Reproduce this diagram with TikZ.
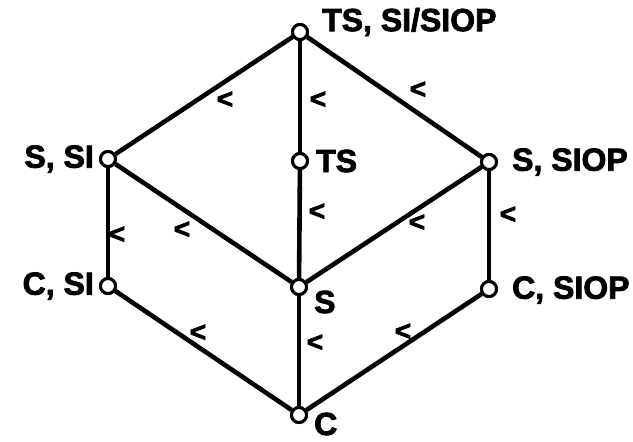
\documentclass[tikz,border=0pt]{standalone}
\usepackage{fontspec}
\setmainfont{Liberation Sans}
\newfontfamily\heavy{Liberation Sans}[FakeBold=2.5]
\begin{document}
\begin{tikzpicture}[x=1pt,y=-1pt,
  vtx/.style={circle,draw=black,fill=white,line width=3pt,minimum size=15pt,inner sep=0pt},
  edge/.style={line width=4.6pt},
  vlab/.style={font=\heavy\fontsize{32}{33}\selectfont\bfseries,inner sep=0pt},
  lt/.style={font=\heavy\fontsize{28}{28}\selectfont\bfseries,inner sep=0pt}]
\useasboundingbox (0,0) rectangle (633,442);
% vertices
\node[vtx] (top) at (300,32) {};
\node[vtx] (ssi) at (108,159) {};
\node[vtx] (ts) at (300,161) {};
\node[vtx] (ssiop) at (489,162) {};
\node[vtx] (csi) at (108,286) {};
\node[vtx] (s) at (299,287) {};
\node[vtx] (csiop) at (489,289) {};
\node[vtx] (c) at (299,415) {};
% edges
\draw[edge] (top) -- (ssi);
\draw[edge] (top) -- (ts);
\draw[edge] (top) -- (ssiop);
\draw[edge] (ssi) -- (csi);
\draw[edge] (ssi) -- (s);
\draw[edge] (ts) -- (s);
\draw[edge] (ssiop) -- (s);
\draw[edge] (ssiop) -- (csiop);
\draw[edge] (csi) -- (c);
\draw[edge] (s) -- (c);
\draw[edge] (csiop) -- (c);
% redraw vertices on top of the edges
\foreach \n in {top,ssi,ts,ssiop,csi,s,csiop,c}
  \node[vtx] at (\n) {};
% vertex labels
\node[vlab,anchor=west] (ltop) at (322,22) {TS, SI/SIOP};
\node[vlab,anchor=east] (lssi) at (94,159) {S, SI};
\node[vlab,anchor=west] (lts) at (316,161) {TS};
\node[vlab,anchor=west] (lssiop) at (512,162) {S, SIOP};
\node[vlab,anchor=east] (lcsi) at (94,286) {C, SI};
\node[vlab,anchor=west] (ls) at (314,302) {S};
\node[vlab,anchor=west] (lc) at (314,424) {C};
\node[vlab,anchor=west] (lcsiop) at (512,290) {C, SIOP};
% order marks
\node[lt] (m1) at (225,100) {<};
\node[lt] (m2) at (318,100) {<};
\node[lt] (m3) at (418,90) {<};
\node[lt] (m4) at (117,235) {<};
\node[lt] (m5) at (182,230) {<};
\node[lt] (m6) at (317,212) {<};
\node[lt] (m7) at (417,223) {<};
\node[lt] (m8) at (508,215) {<};
\node[lt] (m9) at (198,333) {<};
\node[lt] (m10) at (315,343) {<};
\node[lt] (m11) at (403,332) {<};
\end{tikzpicture}
\end{document}
